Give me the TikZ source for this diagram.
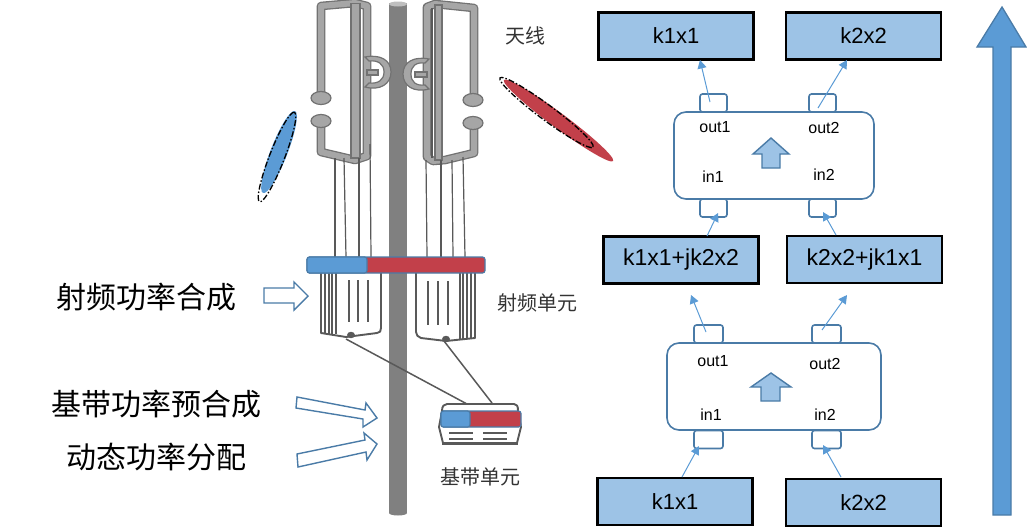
\documentclass[tikz,border=0pt]{standalone}
\usepackage{fontspec}
\setmainfont{Liberation Sans}
\newfontfamily\cjkfont{Noto Sans CJK SC}
\usetikzlibrary{arrows.meta}
\definecolor{barblue}{HTML}{5B9BD5}
\definecolor{barred}{HTML}{C2404A}
\definecolor{boxblue}{HTML}{9DC3E6}
\definecolor{edgeblue}{HTML}{4A7BA7}
\definecolor{framegray}{HTML}{A6A6A6}
\definecolor{darkgray}{HTML}{595959}
\definecolor{polegray}{HTML}{808080}
\tikzset{
  x=1pt, y=-1pt,
  signalbox/.style={draw=black, line width=2.4pt, fill=boxblue, minimum width=155pt, minimum height=47pt, inner sep=0pt, font=\fontsize{22}{26}\selectfont},
  widebox/.style={signalbox, font=\fontsize{23}{27}\selectfont},
  combiner/.style={draw=edgeblue, line width=1.6pt, fill=white, rounded corners=12pt, inner sep=0pt},
  port/.style={draw=edgeblue, line width=1.6pt, fill=white, rounded corners=2.5pt, inner sep=0pt},
  portlabel/.style={font=\fontsize{16}{19}\selectfont, inner sep=0pt},
  flow/.style={draw=barblue, line width=1pt, -{Triangle[length=8.5pt,width=9pt]}},
  blockarrow/.style={draw=edgeblue, line width=1.4pt, fill=boxblue, line join=miter},
  hollowarrow/.style={draw=edgeblue, line width=1.4pt, fill=white},
  frameedge/.style={draw=#1, line join=round, line cap=round},
  antennapart/.style={draw=darkgray!85, line width=1.2pt, fill=framegray},
  wire/.style={draw=darkgray, line width=#1},
  unitline/.style={draw=darkgray, line width=2.1pt},
  bigtext/.style={font=\cjkfont\fontsize{30}{34}\selectfont, inner sep=0pt},
  smalltext/.style={font=\cjkfont\fontsize{20}{24}\selectfont, text=black!80, inner sep=0pt},
  beamoutline/.style={draw=black, line width=1.3pt, dash pattern=on 6pt off 2pt on 1.5pt off 2pt},
}
\begin{document}
\begin{tikzpicture}
\useasboundingbox (0,0) rectangle (1027,528);

% mast
\fill[polegray] (389,3) rectangle (407,513);
\fill[polegray] (398,513) ellipse (9pt and 2.5pt);
\fill[black!25] (398,4) ellipse (9pt and 2.5pt);

% radiation lobes
\fill[barblue, rotate around={68.7:(279,152)}] (279,152) ellipse (44pt and 8.5pt);
\draw[beamoutline, rotate around={68.7:(277,157)}] (277,157) ellipse (48pt and 7.5pt);
\fill[barred, rotate around={-36.6:(558.5,120.5)}] (558.5,120.5) ellipse (68pt and 7.5pt);
\draw[beamoutline, rotate around={-36.6:(546.5,112.5)}] (546.5,112.5) ellipse (58pt and 7.5pt);

% left panel antenna
\foreach \edgecol/\edgew in {darkgray!85/8.6pt, framegray/6pt}{
  \draw[frameedge=\edgecol, line width=\edgew]
    (321,96) -- (321,6) -- (355,3) -- (367,6) -- (367,156) -- (355,160) -- (321,152) -- (321,122);
}
\draw[antennapart] (351,3.5) rectangle (360,158);
\draw[antennapart] (321,98) ellipse (10pt and 6.5pt);
\draw[antennapart] (321,121) ellipse (10pt and 6.5pt);
\draw[antennapart] (365,57) .. controls (380,54) and (391,60) .. (391,72)
  .. controls (391,84) and (380,91) .. (365,87) -- (369,83)
  .. controls (378,84) and (384,80) .. (384,72)
  .. controls (384,64) and (378,60) .. (369,61) -- cycle;
\draw[antennapart] (367,70) rectangle (378,75);

% right panel antenna
\foreach \edgecol/\edgew in {darkgray!85/8.6pt, framegray/6pt}{
  \draw[frameedge=\edgecol, line width=\edgew]
    (474,96) -- (474,8) -- (435,4) -- (427,7) -- (427,157) -- (433,161) -- (445,160) -- (474,153) -- (474,128);
}
\draw[draw=darkgray, line width=1.2pt] (432,8) -- (432,158);
\draw[antennapart] (435,5) rectangle (442,160);
\draw[antennapart] (473,100) ellipse (10pt and 6.5pt);
\draw[antennapart] (473,123) ellipse (10pt and 6.5pt);
\draw[antennapart] (429,59) .. controls (414,56) and (403,62) .. (403,74)
  .. controls (403,86) and (414,93) .. (429,89) -- (425,85)
  .. controls (416,86) and (411,82) .. (411,74)
  .. controls (411,66) and (416,62) .. (425,63) -- cycle;
\draw[antennapart] (415,72) rectangle (427,77);

% feed lines from the antennas to the radio units
\draw[wire=2pt] (335,158) -- (335,257);
\draw[wire=1.2pt] (344,158) -- (346,257);
\draw[wire=2pt] (359,158) -- (359,257);
\draw[wire=1.2pt] (370,144) -- (371,257);
\draw[wire=1.2pt] (426,160) -- (427,257);
\draw[wire=2pt] (441,160) -- (441,257);
\draw[wire=1.2pt] (452,160) -- (453,257);
\draw[wire=1.2pt] (463,157) -- (465,257);

% left radio unit
\draw[fill=white, draw=darkgray, line width=1.9pt, line join=round]
  (321,273) -- (321,333) -- (346,337) -- (377,333) .. controls (380,333) and (381,331) .. (381,328) -- (381,273);
\foreach \lx in {325,329,332,336} \draw[unitline] (\lx,273) -- (\lx,334);
\foreach \lx in {349,358,368} \draw[unitline] (\lx,280) -- (\lx,322);
\fill[darkgray] (351,335) ellipse (4pt and 3.2pt);

% right radio unit
\draw[fill=white, draw=darkgray, line width=1.9pt, line join=round]
  (416,273) -- (416,332) .. controls (416,335) and (418,337) .. (421,338) -- (446,341) -- (475,338) -- (475,273);
\foreach \lx in {460,463,467,471} \draw[unitline] (\lx,273) -- (\lx,339);
\foreach \lx in {428,438,448} \draw[unitline] (\lx,281) -- (\lx,325);
\fill[darkgray] (446,339) ellipse (4pt and 3.2pt);

% shared radio bar
\draw[draw=edgeblue, line width=1.2pt, rounded corners=2.5pt, fill=barred] (307,257) rectangle (485,273);
\draw[draw=edgeblue, line width=1.2pt, fill=barblue, rounded corners=2.5pt]
  (367,257) -- (307,257) -- (307,273) -- (367,273) -- cycle;

% baseband unit
\draw[fill=white, draw=darkgray, line width=1.9pt, line join=round]
  (442,411) .. controls (442,406) and (444,404) .. (447,404) -- (514,404)
  .. controls (517,404) and (518,406) .. (518,411) -- (521,427) -- (517,443) -- (443,443) -- (439,427) -- cycle;
\fill[darkgray] (442,441.5) rectangle (518,445);
\draw[draw=edgeblue, line width=1.2pt, rounded corners=2.5pt, fill=barred] (441,411) rectangle (521,427);
\draw[draw=edgeblue, line width=1.2pt, rounded corners=2.5pt, fill=barblue]
  (470,411) -- (441,411) -- (441,427) -- (470,427) -- cycle;
\draw[draw=darkgray, line width=1.5pt] (449,433) -- (473,433) (449,439) -- (473,439)
  (483,433) -- (507,433) (483,439) -- (507,439);

% cables between the radio units and the baseband unit
\coordinate (rfleft) at (346,339);
\coordinate (rfright) at (444,341);
\coordinate (bbleft) at (467,404);
\coordinate (bbright) at (492,403);
\draw[wire=1.5pt] (rfleft) -- (bbleft);
\draw[wire=1.5pt] (rfright) -- (bbright);

% captions
\node[bigtext] (rfsum) at (146,297) {射频功率合成};
\node[bigtext] (bbsum) at (156,404) {基带功率预合成};
\node[bigtext] (dyn) at (156,457) {动态功率分配};
\node[smalltext] (ant) at (525.5,36) {天线};
\node[smalltext] (rfunit) at (537,303) {射频单元};
\node[smalltext] (bbunit) at (480,477) {基带单元};

% hollow pointers
\draw[hollowarrow] (264,288) -- (294,288) -- (294,282) -- (308,296) -- (294,310) -- (294,303) -- (264,303) -- cycle;
\draw[hollowarrow] (297,397) -- (365,410) -- (366,403) -- (377,418) -- (363,427) -- (363,419) -- (296,408) -- cycle;
\draw[hollowarrow] (297,454) -- (365,440) -- (364,433) -- (377,444) -- (367,460) -- (366,452) -- (298,467) -- cycle;

% signal boxes, upper stage
\node[signalbox] (topa) at (676,36) {k1x1};
\node[signalbox] (topb) at (863.5,36) {k2x2};
\node[combiner, minimum width=200pt, minimum height=87pt] (combu) at (774,155.5) {};
\node[port, minimum width=27pt, minimum height=18pt] (uo1) at (713.5,103) {};
\node[port, minimum width=27pt, minimum height=18pt] (uo2) at (822.5,103) {};
\node[port, minimum width=27pt, minimum height=18pt] (ui1) at (713.5,208) {};
\node[port, minimum width=27pt, minimum height=18pt] (ui2) at (822.5,208) {};
\node[portlabel] (luo1) at (715,127) {out1};
\node[portlabel] (luo2) at (824,128) {out2};
\node[portlabel] (lui1) at (713,177) {in1};
\node[portlabel] (lui2) at (824,175) {in2};
\draw[blockarrow] (771,138) -- (789,154) -- (780,154) -- (780,168) -- (762,168) -- (762,154) -- (753,154) -- cycle;

% signal boxes, middle row
\node[widebox] (mida) at (681,260) {k1x1+jk2x2};
\node[widebox] (midb) at (864.5,259.5) {k2x2+jk1x1};

% signal boxes, lower stage
\node[combiner, minimum width=214pt, minimum height=87pt] (combl) at (774,386.5) {};
\node[port, minimum width=29pt, minimum height=18pt] (lo1) at (708.5,334) {};
\node[port, minimum width=29pt, minimum height=18pt] (lo2) at (826.5,334) {};
\node[port, minimum width=29pt, minimum height=18pt] (li1) at (708.5,439.5) {};
\node[port, minimum width=29pt, minimum height=18pt] (li2) at (826.5,439.5) {};
\node[portlabel] (llo1) at (713,361) {out1};
\node[portlabel] (llo2) at (825,364) {out2};
\node[portlabel] (lli1) at (711,415) {in1};
\node[portlabel] (lli2) at (825,415) {in2};
\draw[blockarrow] (771,373) -- (791,387) -- (780,387) -- (780,401) -- (761,401) -- (761,387) -- (751,387) -- cycle;
\node[signalbox] (bota) at (675,501.5) {k1x1};
\node[signalbox] (botb) at (863.5,502.5) {k2x2};

% connector ends
\coordinate (uo1s) at (710,102);
\coordinate (topae) at (700,60);
\coordinate (uo2s) at (818,108);
\coordinate (topbe) at (847,60);
\coordinate (midas) at (707,236);
\coordinate (ui1e) at (718,213);
\coordinate (midbs) at (836,235);
\coordinate (ui2e) at (823,212);
\coordinate (lo1s) at (706,332);
\coordinate (midae) at (691,295);
\coordinate (lo2s) at (822,330);
\coordinate (midbe) at (847,295);
\coordinate (botas) at (682,477);
\coordinate (li1e) at (699,446);
\coordinate (botbs) at (841,477);
\coordinate (li2e) at (823,445);
\draw[flow] (uo1s) -- (topae);
\draw[flow] (uo2s) -- (topbe);
\draw[flow] (midas) -- (ui1e);
\draw[flow] (midbs) -- (ui2e);
\draw[flow] (lo1s) -- (midae);
\draw[flow] (lo2s) -- (midbe);
\draw[flow] (botas) -- (li1e);
\draw[flow] (botbs) -- (li2e);

% overall direction arrow
\draw[draw=edgeblue, line width=1.3pt, fill=barblue]
  (1002,7) -- (1026,47) -- (1011,47) -- (1011,515) -- (993,515) -- (993,47) -- (977,47) -- cycle;
\end{tikzpicture}
\end{document}
